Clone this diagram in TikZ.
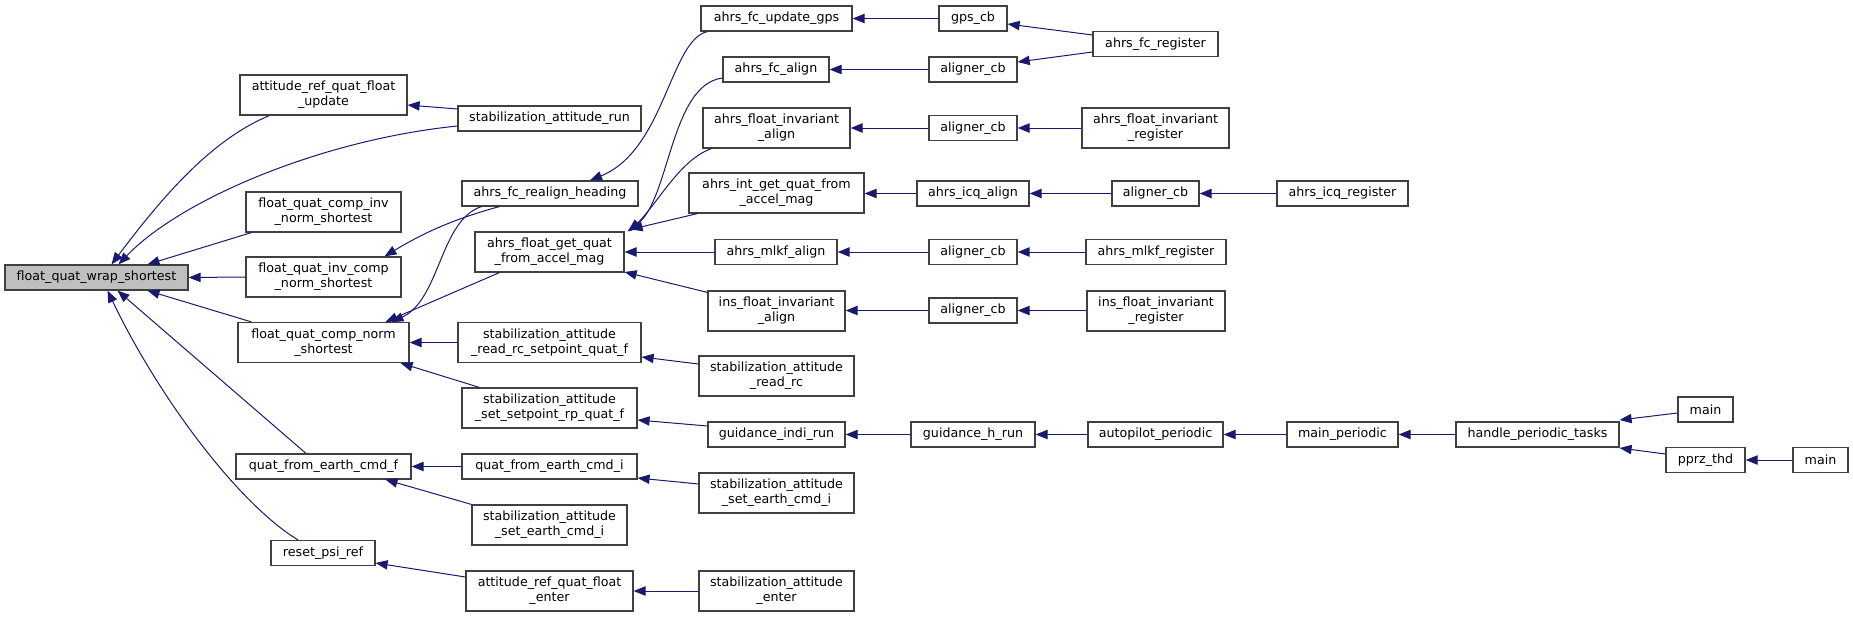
\documentclass[tikz,border=0pt]{standalone}
\usepackage{fontspec}
\setmainfont{DejaVu Sans}
\usepackage{tikz}
\usetikzlibrary{arrows.meta,calc}
\definecolor{edgeblue}{RGB}{25,25,112}
\definecolor{boxgray}{RGB}{64,64,64}
\definecolor{curfill}{RGB}{191,191,191}
\tikzset{
  fnbox/.style={draw=boxgray,line width=0.9pt,inner sep=0pt,align=center,
               font=\fontsize{9.5}{11.25}\selectfont,minimum height=18.75pt},
  fnbox2/.style={fnbox,minimum height=30pt},
  bw/.style={minimum width=#1*0.75pt},
  call/.style={-{Triangle[length=9pt,width=7pt]},draw=edgeblue,line width=0.75pt},
}

\begin{document}
\begin{tikzpicture}[x=0.75pt,y=-0.75pt]
        \useasboundingbox (0,0) rectangle (1853,617);
        % first column
        \node[fnbox,bw=183,fill=curfill] (wrap) at (96.5,277.5) {float\_quat\_wrap\_shortest};
        \node[fnbox2,bw=167] (upd) at (323.5,95) {attitude\_ref\_quat\_float\\\_update};
        \node[fnbox2,bw=155] (cinv) at (323.5,212) {float\_quat\_comp\_inv\\\_norm\_shortest};
        \node[fnbox2,bw=155] (icomp) at (323.5,277) {float\_quat\_inv\_comp\\\_norm\_shortest};
        \node[fnbox2,bw=171] (cnorm) at (323.5,342.5) {float\_quat\_comp\_norm\\\_shortest};
        \node[fnbox,bw=175] (qfef) at (323.5,466.5) {quat\_from\_earth\_cmd\_f};
        \node[fnbox,bw=104] (rpsi) at (323,553) {reset\_psi\_ref};
        % second column
        \node[fnbox,bw=183] (run) at (549.5,118.5) {stabilization\_attitude\_run};
        \node[fnbox,bw=176] (realign) at (550,193.5) {ahrs\_fc\_realign\_heading};
        \node[fnbox2,bw=149] (getq) at (549.5,252) {ahrs\_float\_get\_quat\\\_from\_accel\_mag};
        \node[fnbox2,bw=183] (rcsp) at (549.5,342.5) {stabilization\_attitude\\\_read\_rc\_setpoint\_quat\_f};
        \node[fnbox2,bw=175] (rpq) at (549.5,408) {stabilization\_attitude\\\_set\_setpoint\_rp\_quat\_f};
        \node[fnbox,bw=175] (qfei) at (549.5,466.5) {quat\_from\_earth\_cmd\_i};
        \node[fnbox2,bw=155] (secil) at (549.5,525) {stabilization\_attitude\\\_set\_earth\_cmd\_i};
        \node[fnbox2,bw=167] (renter) at (549.5,591) {attitude\_ref\_quat\_float\\\_enter};
        % third column
        \node[fnbox,bw=151] (ugps) at (776.5,18.5) {ahrs\_fc\_update\_gps};
        \node[fnbox,bw=106] (fcal) at (776,69.5) {ahrs\_fc\_align};
        \node[fnbox2,bw=147] (fial) at (776.5,128) {ahrs\_float\_invariant\\\_align};
        \node[fnbox2,bw=175] (intq) at (776.5,193) {ahrs\_int\_get\_quat\_from\\\_accel\_mag};
        \node[fnbox,bw=122] (mlkf) at (776,252) {ahrs\_mlkf\_align};
        \node[fnbox2,bw=137] (insal) at (776.5,311) {ins\_float\_invariant\\\_align};
        \node[fnbox2,bw=155] (rrc) at (776.5,376) {stabilization\_attitude\\\_read\_rc};
        \node[fnbox,bw=137] (gir) at (776.5,434.5) {guidance\_indi\_run};
        \node[fnbox2,bw=155] (secir) at (776.5,493) {stabilization\_attitude\\\_set\_earth\_cmd\_i};
        \node[fnbox2,bw=155] (senter) at (776.5,591) {stabilization\_attitude\\\_enter};
        % fourth column
        \node[fnbox,bw=68] (gpscb) at (973,18.5) {gps\_cb};
        \node[fnbox,bw=88] (alA) at (973,69.5) {aligner\_cb};
        \node[fnbox,bw=88] (alB) at (973,128) {aligner\_cb};
        \node[fnbox,bw=112] (icqal) at (973,193.5) {ahrs\_icq\_align};
        \node[fnbox,bw=88] (alD) at (973,252) {aligner\_cb};
        \node[fnbox,bw=88] (alE) at (973,310.5) {aligner\_cb};
        \node[fnbox,bw=124] (ghr) at (973,434.5) {guidance\_h\_run};
        % fifth column
        \node[fnbox,bw=125] (fcreg) at (1155.5,44) {ahrs\_fc\_register};
        \node[fnbox2,bw=147] (fireg) at (1155.5,128) {ahrs\_float\_invariant\\\_register};
        \node[fnbox,bw=87] (alC) at (1155.5,193.5) {aligner\_cb};
        \node[fnbox,bw=140] (mlkfreg) at (1156,252) {ahrs\_mlkf\_register};
        \node[fnbox2,bw=138] (insreg) at (1156,311) {ins\_float\_invariant\\\_register};
        \node[fnbox,bw=135] (app) at (1155.5,434.5) {autopilot\_periodic};
        % right part
        \node[fnbox,bw=131] (icqreg) at (1342.5,193.5) {ahrs\_icq\_register};
        \node[fnbox,bw=111] (mainp) at (1342.5,434.5) {main\_periodic};
        \node[fnbox,bw=163] (hpt) at (1537.5,434.5) {handle\_periodic\_tasks};
        \node[fnbox,bw=55] (mainA) at (1705.5,409.5) {main};
        \node[fnbox,bw=79] (pprz) at (1705.5,460) {pprz\_thd};
        \node[fnbox,bw=55] (mainB) at (1820.5,460) {main};

        \draw[call] ($(upd.south west)+(30,0)$) .. controls (210,140) and (160,200) .. ($(wrap.north)+(15,0)$);
        \draw[call] ($(run.west)+(0,7.5)$) .. controls (320,140) and (180,200) .. ($(wrap.north)+(22,0)$);
        \draw[call] ($(run.west)+(0,-9.5)$) -- ($(upd.east)+(0,10)$);
        \draw[call] ($(cinv.south west)+(6,0)$) -- ($(wrap.north)+(51,0)$);
        \draw[call] (icomp.west) -- (wrap.east);
        \draw[call] ($(cnorm.north west)+(14,0)$) -- ($(wrap.south)+(51,0)$);
        \draw[call] ($(qfef.north)+(-17.5,0)$) -- ($(wrap.south)+(21,0)$);
        \draw[call] ($(rpsi.north)+(-25,0)$) .. controls (240,505) and (160,400) .. ($(wrap.south)+(11,0)$);
        \draw[call] ($(realign.south west)+(38,0)$) .. controls (450,220) and (420,235) .. ($(icomp.north)+(61,0)$);
        \draw[call] ($(realign.south west)+(20,0)$) .. controls (440,220) and (440,300) .. ($(cnorm.north)+(68,0)$);
        \draw[call] ($(getq.south west)+(25,0)$) -- ($(cnorm.north)+(62,0)$);
        \draw[call] ($(ugps.south west)+(7,0)$) .. controls (670,40) and (665,150) .. ($(realign.north)+(40,0)$);
        \draw[call] ($(fcal.west)+(0,8.5)$) .. controls (670,85) and (670,200) .. ($(getq.north east)+(3,0)$);
        \draw[call] ($(fial.south west)+(9,0)$) .. controls (680,160) and (660,200) .. ($(getq.north east)+(5,0)$);
        \draw[call] ($(intq.south west)+(9,0)$) -- ($(getq.north east)+(6,-2)$);
        \draw[call] (mlkf) -- (getq);
        \draw[call] ($(insal.north west)+(0,2)$) -- ($(getq.east)+(0,20)$);
        \draw[call] (rcsp) -- (cnorm);
        \draw[call] ($(rpq.north west)+(18,0)$) -- ($(cnorm.south east)+(-9,0)$);
        \draw[call] (qfei) -- (qfef);
        \draw[call] (secil.north west) -- ($(qfef.south)+(62,0)$);
        \draw[call] ($(renter.west)+(0,-14)$) -- ($(rpsi.east)+(0,10)$);
        \draw[call] ($(rrc.west)+(0,-12)$) -- ($(rcsp.east)+(0,14.5)$);
        \draw[call] ($(gir.west)+(0,-8.5)$) -- ($(rpq.east)+(0,12)$);
        \draw[call] ($(secir.west)+(0,-9)$) -- ($(qfei.east)+(0,11.5)$);
        \draw[call] (senter) -- (renter);
        \draw[call] (gpscb) -- (ugps);
        \draw[call] (alA) -- (fcal);
        \draw[call] (alB) -- (fial);
        \draw[call] (icqal.west) -- (icqal.west -| intq.east);
        \draw[call] (alD) -- (mlkf);
        \draw[call] (alE.west) -- (alE.west -| insal.east);
        \draw[call] (ghr) -- (gir);
        \draw[call] ($(fcreg.west)+(0,-9)$) -- ($(gpscb.east)+(0,5.5)$);
        \draw[call] ($(fcreg.west)+(0,8)$) -- ($(alA.east)+(0,-7.5)$);
        \draw[call] (fireg) -- (alB);
        \draw[call] (alC) -- (icqal);
        \draw[call] (icqreg) -- (alC);
        \draw[call] (mlkfreg) -- (alD);
        \draw[call] (insreg.west |- alE.west) -- (alE.east);
        \draw[call] (app) -- (ghr);
        \draw[call] (mainp) -- (app);
        \draw[call] (hpt) -- (mainp);
        \draw[call] ($(mainA.west)+(0,3.5)$) -- ($(hpt.east)+(0,-14.5)$);
        \draw[call] ($(pprz.west)+(0,-6)$) -- ($(hpt.east)+(0,13.5)$);
        \draw[call] (mainB) -- (pprz);
      \end{tikzpicture}
\end{document}
